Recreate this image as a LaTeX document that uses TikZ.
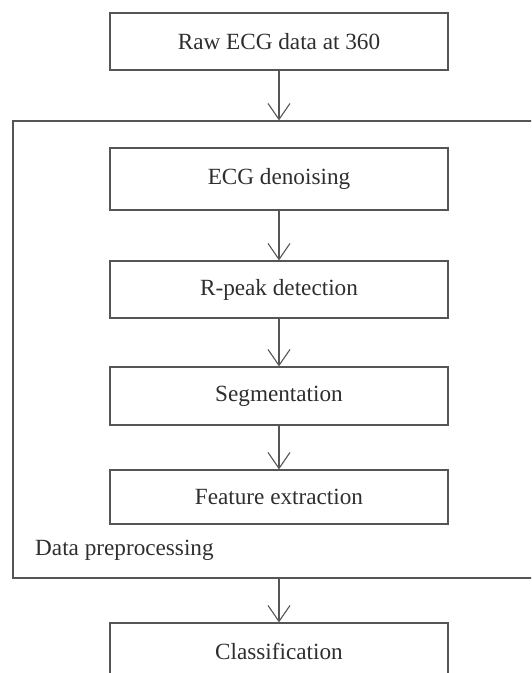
\documentclass[tikz,border=0pt]{standalone}
\usepackage{fontspec}
\setmainfont{Liberation Serif}
\usetikzlibrary{arrows.meta}
\definecolor{linegray}{HTML}{555555}
\definecolor{textgray}{HTML}{2E2E2E}
\begin{document}
\begin{tikzpicture}[x=1pt, y=-1pt,
  stage/.style={draw=linegray, line width=1.2pt, minimum width=338pt,
    inner sep=0pt, text=textgray, font=\fontsize{23.2}{27}\selectfont},
  group/.style={draw=linegray, line width=1.2pt, inner sep=0pt},
  flow/.style={draw=linegray, line width=1.1pt,
    -{Straight Barb[length=16pt, width=22pt, line width=1.1pt]}}]
  \useasboundingbox (0,0) rectangle (531,673);
  \clip (0,0) rectangle (531,673);

  % input
  \node[stage, minimum height=57pt] (raw) at (279,41.5) {Raw ECG data at 360};

  % preprocessing group and its steps
  \node[group, minimum width=532pt, minimum height=457pt] (pre) at (279,349.5) {};
  \node[stage, minimum height=62pt] (den) at (279,179) {ECG denoising};
  \node[stage, minimum height=57pt] (rpk) at (279,289.5) {R-peak detection};
  \node[stage, minimum height=58pt] (seg) at (279,396) {Segmentation};
  \node[stage, minimum height=54pt] (fea) at (279,497) {Feature extraction};
  \node[anchor=base west, inner sep=0pt, text=textgray,
    font=\fontsize{23.2}{27}\selectfont] (lbl) at (35,555) {Data preprocessing};

  % output
  \node[stage, minimum height=57pt] (cls) at (279,651.5) {Classification};

  % connectors
  \draw[flow] (raw.south) -- (pre.north);
  \draw[flow] (den.south) -- (rpk.north);
  \draw[flow] (rpk.south) -- (seg.north);
  \draw[flow] (seg.south) -- (fea.north);
  \draw[flow] (pre.south) -- (cls.north);
\end{tikzpicture}
\end{document}
